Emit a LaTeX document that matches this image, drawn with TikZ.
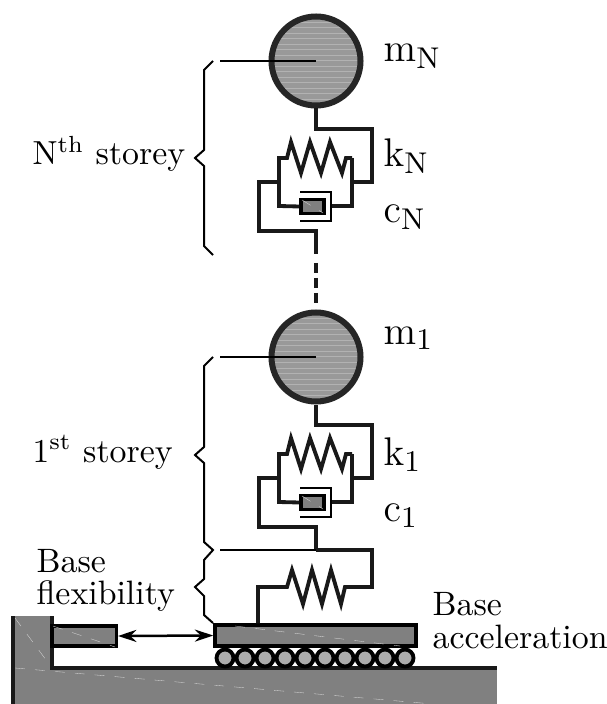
\documentclass[tikz,border=0pt]{standalone}
\usepackage{xcolor}
\usepackage{amsmath}
\usepackage{tikz}
\usetikzlibrary{arrows.meta, positioning}

\newcommand{\zigzag}{-- ++(4,-16) -- ++(10,31) -- ++(9,-31) -- ++(11,31) -- ++(9,-31) -- ++(12,31) -- ++(4,-15)}

\begin{document}
\begin{tikzpicture}[x=0.3pt, y=-0.3pt]

	\tikzstyle{wire}=[line width=1.15pt, line join=miter, draw=black!90]
	\tikzstyle{thinwire}=[line width=0.6pt, draw=black]
	\tikzstyle{seam}=[line width=0.1pt, draw=white!70!gray, dashed]
	\tikzstyle{massc}=[circle, draw=black!85, line width=1.8pt, fill=gray!80!white, minimum size=26.7pt, inner sep=0pt,
		path picture={\foreach \k in {-12,...,12} {\draw [line width=0.3pt, gray!60!white] (path picture bounding box.center) ++(-50,5.5*\k) -- ++(100,0);}}]
	\tikzstyle{rollerc}=[circle, draw=black, line width=1.15pt, fill=gray!65!white, minimum size=5.1pt, inner sep=0pt]
	\tikzstyle{blockr}=[rectangle, draw=black, line width=1.05pt, fill=gray, inner sep=0pt]
	\tikzstyle{txt}=[anchor=base west, inner sep=0pt, font=\fontsize{10.15}{10.15}\selectfont]
	\tikzstyle{symb}=[anchor=base west, inner sep=0pt, font=\fontsize{13}{13}\selectfont]

	\useasboundingbox (0,0) rectangle (606,704);

	% ground and wall
	\fill [gray] (11,668) rectangle (497,704);
	\fill [gray] (11,616) rectangle (52,668);
	\draw [seam] (15,668) -- (433,704);
	\draw [seam] (15,618) -- (52,668);
	\draw [wire] (13,616) -- (13,704);
	\draw [wire] (52,616) -- (52,668) -- (497,668);

	\node (stub) at (84,636) [blockr, minimum width=19.35pt, minimum height=6pt] {};
	\node (slab) at (315.5,635.5) [blockr, minimum width=60.3pt, minimum height=6.3pt] {};
	\draw [seam] (53,626) -- (115,647);
	\draw [seam] (235,626) -- (400,646);

	\foreach \i in {0,...,9} {
		\node (roll\i) at (225+20*\i,658) [rollerc] {};
	}

	\draw [line width=0.75pt, {Stealth[length=5.5pt,width=3.6pt]}-{Stealth[length=5.5pt,width=3.6pt]}] (stub.east) -- (slab.west);

	% the two storeys
	\foreach \s/\dy in {N/0, 1/296} {
		\node (m\s) at (316,61+\dy) [massc] {};
		\node (p\s) at (312.5,206.5+\dy) [blockr, minimum width=6.9pt, minimum height=4.2pt] {};
		\draw [seam] (302,200+\dy) -- (323,213+\dy);

		\coordinate (ua\s) at (372,129+\dy);
		\coordinate (ub\s) at (372,182+\dy);
		\coordinate (uc\s) at (352,182+\dy);
		\coordinate (ra\s) at (352,158+\dy);
		\coordinate (rb\s) at (352,206+\dy);
		\coordinate (cy\s) at (332,206+\dy);
		\coordinate (la\s) at (279,158+\dy);
		\coordinate (lb\s) at (279,206+\dy);
		\coordinate (lc\s) at (279,182+\dy);
		\coordinate (ld\s) at (259,182+\dy);
		\coordinate (le\s) at (259,231+\dy);
		\coordinate (e\s) at (316,254+\dy);

		\draw [wire] (m\s.south) |- (ua\s) -- (ub\s) -- (uc\s);
		\draw [wire] (ra\s) -- (rb\s) -- (cy\s);
		\draw [wire] (p\s.west) -- (lb\s) -- (la\s) -- ++(8,0) \zigzag -- (ra\s);
		\draw [wire] (lc\s) -- (ld\s) -- (le\s) -| (e\s);
		\draw [line width=0.5pt] (300,192+\dy) -- (331,192+\dy) -- (331,221+\dy) -- (300,221+\dy);

		\coordinate (b\s) at (220,61+\dy);
		\draw [thinwire] (b\s) -- (m\s.center);
	}

	\draw [wire, dash pattern=on 3pt off 1.5pt] (316,263) -- (316,303);

	% base spring
	\coordinate (ba) at (372,550);
	\coordinate (bb) at (372,587);
	\coordinate (bc) at (345,587);
	\coordinate (bd) at (287,587);
	\coordinate (be) at (258,587);
	\coordinate (bf) at (220,550);
	\draw [wire] (e1) -- (ba) -- (bb) -- (bc) -- ++(-4,17) -- ++(-10,-34) -- ++(-9,34) -- ++(-10,-34) -- ++(-9,34) -- ++(-11,-34) -- (bd) -- (be) -- (be |- slab.north);
	\draw [thinwire] (bf) -- (e1);

	% braces
	\draw [thinwire] (213,61) -- (204,70) -- (204,150) -- (195,158) -- (204,166) -- (204,246) -- (213,255);
	\draw [thinwire] (213,357) -- (204,366) -- (204,447) -- (195,455) -- (204,463) -- (204,542) -- (213,550) -- (204,560) -- (204,579) -- (195,587) -- (204,596) -- (204,615) -- (213,623);

	% labels
	\node (tN) at (383,62) [symb] {$\mathrm{m_N}$};
	\node (t1) at (383,344) [symb] {$\mathrm{m_1}$};
	\node (kN) at (383,167) [symb] {$\mathrm{k_N}$};
	\node (k1) at (383,465) [symb] {$\mathrm{k_1}$};
	\node (cN) at (383,223) [symb] {$\mathrm{c_N}$};
	\node (c1) at (383,521) [symb] {$\mathrm{c_1}$};

	\node (sN) at (32,165) [txt] {$\mathrm{N^{th}}$ storey};
	\node (s1) at (32,462) [txt] {$\mathrm{1^{st}}$ storey};
	\node (fa) at (36,572) [txt] {Base};
	\node (fb) at (36,604) [txt] {flexibility};
	\node (aa) at (432,615) [txt] {Base};
	\node (ab) at (432,648) [txt] {acceleration};

\end{tikzpicture}
\end{document}
